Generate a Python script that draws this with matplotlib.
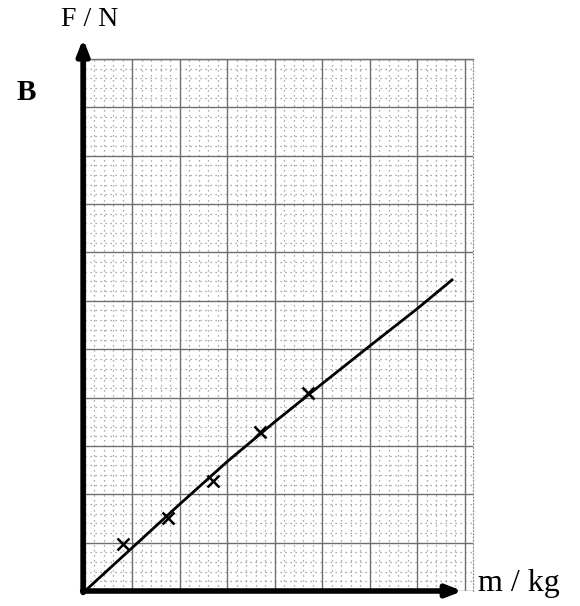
import matplotlib
matplotlib.use("Agg")
import matplotlib.pyplot as plt
from matplotlib.ticker import MultipleLocator

# Data (grid units)
mass = [0.80, 1.75, 2.69, 3.68, 4.69]
force = [0.97, 1.51, 2.27, 3.29, 4.09]
# best-fit curve
fit_m = [0.0, 1.0, 2.0, 3.0, 4.0, 5.0, 6.0, 7.0, 7.75]
fit_f = [0.0, 0.90, 1.80, 2.68, 3.50, 4.29, 5.07, 5.84, 6.45]

x_label = "m / kg"
y_label = "F / N"
panel = "B"

fig = plt.figure(figsize=(5.8, 6.06), dpi=100)
ax = fig.add_axes([85/580, 15/606, 388/580, 532/606])
ax.set_xlim(0, 8.17)
ax.set_ylim(0, 11.0)

ax.xaxis.set_major_locator(MultipleLocator(1))
ax.yaxis.set_major_locator(MultipleLocator(1))
ax.xaxis.set_minor_locator(MultipleLocator(0.2))
ax.yaxis.set_minor_locator(MultipleLocator(0.2))
ax.grid(which="minor", color="#8f8f8f", linestyle=(0, (1, 3)), linewidth=0.9)
ax.grid(which="major", color="#6f6f6f", linestyle="-", linewidth=1.0)
ax.set_axisbelow(True)
ax.tick_params(which="both", length=0, labelbottom=False, labelleft=False)
for side in ["top", "right", "bottom", "left"]:
    ax.spines[side].set_visible(False)
ax.spines["top"].set_visible(True)
ax.spines["top"].set_color("#6f6f6f")
ax.spines["top"].set_linewidth(1.0)
ax.spines["right"].set_visible(True)
ax.spines["right"].set_color("#8f8f8f")
ax.spines["right"].set_linestyle((0, (1, 2)))

ax.plot(fit_m, fit_f, color="black", linewidth=2.0, solid_capstyle="butt", zorder=3)
ax.plot(mass, force, linestyle="none", marker="x", color="black",
        markersize=8, markeredgewidth=1.8, zorder=4)

# axis arrows
ax.annotate("", xy=(7.95, 0), xytext=(-0.05, 0), xycoords="data",
            arrowprops=dict(arrowstyle="-|>,head_length=0.9,head_width=0.35",
                            color="black", lw=4, shrinkA=0, shrinkB=0),
            annotation_clip=False, zorder=5)
ax.annotate("", xy=(-0.04, 11.42), xytext=(-0.04, -0.03), xycoords="data",
            arrowprops=dict(arrowstyle="-|>,head_length=0.9,head_width=0.35",
                            color="black", lw=4, shrinkA=0, shrinkB=0),
            annotation_clip=False, zorder=5)

fig.text(90/580, 1 - 20/606, y_label, fontsize=20, family="Liberation Serif",
         ha="center", va="center")
fig.text(519/580, 1 - 584/606, x_label, fontsize=23, family="Liberation Serif",
         ha="center", va="center")
fig.text(26/580, 1 - 93/606, panel, fontsize=21, family="Liberation Serif",
         fontweight="bold", ha="center", va="center")

fig.savefig("out.png", dpi=100)
